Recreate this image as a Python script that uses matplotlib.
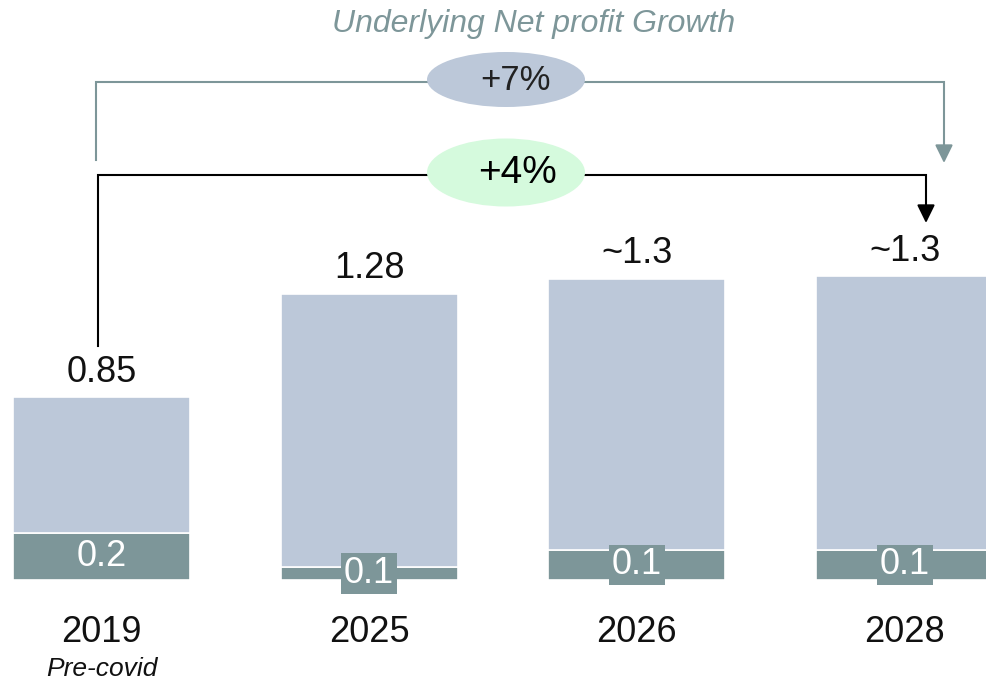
import matplotlib
matplotlib.use('Agg')
import matplotlib.pyplot as plt
from matplotlib.patches import Ellipse

years = ['2019', '2025', '2026', '2028']
sublabels = ['Pre-covid', '', '', '']
total_values = [0.85, 1.33, 1.40, 1.41]
base_values = [0.22, 0.06, 0.14, 0.14]
total_labels = ['0.85', '1.28', '~1.3', '~1.3']
base_labels = ['0.2', '0.1', '0.1', '0.1']
growth_labels = ['+7%', '+4%']
title = 'Underlying Net profit Growth'

LIGHT = '#bcc8d9'
DARK = '#7d9699'
GREEN = '#d5fadd'

plt.rcParams['font.family'] = ['Liberation Sans', 'DejaVu Sans']

W, H = 987, 684
fig = plt.figure(figsize=(W / 100, H / 100), dpi=100)
ax = fig.add_axes([0, 0, 1, 1])
ax.set_xlim(-0.379, 3.308)
ax.set_ylim(-0.483, 2.694)
ax.axis('off')

x = list(range(len(years)))
upper = [t - b for t, b in zip(total_values, base_values)]
ax.bar(x, base_values, width=0.661, color=DARK, edgecolor='white', linewidth=1.2)
ax.bar(x, upper, bottom=base_values, width=0.661, color=LIGHT, edgecolor='white', linewidth=1.2)

for i in x:
    ax.annotate(total_labels[i], (i, total_values[i]), xytext=(0, 18), textcoords='offset points',
                ha='center', va='center', fontsize=26, color='#111111')
    ax.text(i, base_values[i] / 2, base_labels[i], ha='center', va='center', color='white',
            fontsize=26, zorder=5,
            bbox=dict(boxstyle='square,pad=0.08', fc=DARK, ec='none'))
    ax.annotate(years[i], (i, 0), xytext=(0, -38), textcoords='offset points',
                ha='center', va='center', fontsize=26, color='#111111')
    if sublabels[i]:
        ax.annotate(sublabels[i], (i, 0), xytext=(0, -64), textcoords='offset points',
                    ha='center', va='center', fontsize=19, style='italic', color='#111111')

# decoration overlay in pixel coordinates
ov = fig.add_axes([0, 0, 1, 1], zorder=10)
ov.set_xlim(0, W)
ov.set_ylim(H, 0)
ov.axis('off')
ov.patch.set_alpha(0)

ov.text(534, 24, title, ha='center', va='center', fontsize=23, style='italic', color=DARK)

# gray bracket (+7%)
ov.plot([96, 96, 944, 944], [160, 82, 82, 150], color=DARK, lw=1.5, solid_joinstyle='miter', zorder=2)
ov.annotate('', xy=(944, 163), xytext=(944, 146),
            arrowprops=dict(arrowstyle='-|>,head_length=0.55,head_width=0.27', color=DARK,
                            lw=1.5, shrinkA=0, shrinkB=0, mutation_scale=20))
ov.add_patch(Ellipse((506, 79.5), 158, 55, fc=LIGHT, ec='none', zorder=3))
ov.text(515, 81, growth_labels[0], ha='center', va='center', fontsize=25, color='#222222', zorder=4)

# black bracket (+4%)
ov.plot([98, 98, 926, 926], [346, 175, 175, 210], color='black', lw=1.5, solid_joinstyle='miter', zorder=2)
ov.annotate('', xy=(926, 223), xytext=(926, 206),
            arrowprops=dict(arrowstyle='-|>,head_length=0.55,head_width=0.27', color='black',
                            lw=1.5, shrinkA=0, shrinkB=0, mutation_scale=20))
ov.add_patch(Ellipse((506, 172.5), 158, 68, fc=GREEN, ec='none', zorder=3))
ov.text(517, 173, growth_labels[1], ha='center', va='center', fontsize=28, color='black', zorder=4)

fig.savefig('out.png', dpi=100)
